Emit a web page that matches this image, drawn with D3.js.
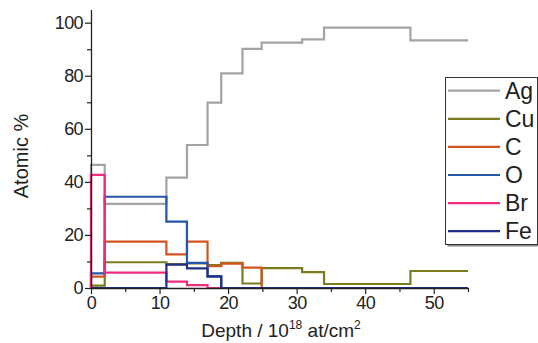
<!DOCTYPE html>
<html>
<head>
<meta charset="utf-8">
<script src="https://cdn.jsdelivr.net/npm/d3@7"></script>
<style>
  body { margin: 0; background: #fff; }
  svg { display: block; font-family: "Liberation Sans", Arial, sans-serif; }
</style>
</head>
<body>
<svg id="chart" width="538" height="343"></svg>
<script>
// Layer boundaries (depth, 10^18 at/cm^2)
const depths = [0, 2, 11, 14, 17, 19, 22.1, 24.9, 30.8, 34, 46.6, 55];
// Atomic % for each layer (between consecutive boundaries)
const agValues = [46.4, 31.7, 41.6, 53.9, 69.9, 80.9, 90.1, 92.5, 93.7, 98.1, 93.3];
const cuValues = [0.9, 9.7, 9.0, 9.3, 8.6, 9.5, 1.7, 7.5, 6.0, 1.5, 6.4];
const cValues  = [4.3, 17.5, 12.7, 17.5, 8.2, 9.2, 7.7, 0, 0, 0, 0];
const oValues  = [5.5, 34.4, 25.0, 9.5, 4.5, 0, 0, 0, 0, 0, 0];
const brValues = [42.6, 5.8, 2.4, 1.1, 0, 0, 0, 0, 0, 0, 0];
const feValues = [0, 0, 8.8, 7.4, 4.3, 0, 0, 0, 0, 0, 0];
const seriesNames = ["Ag", "Cu", "C", "O", "Br", "Fe"];
const seriesColors = ["#a3a3a3", "#7b7b1f", "#d4531f", "#2656a8", "#ee2d7d", "#232e86"];
const xTicks = [0, 10, 20, 30, 40, 50];
const yTicks = [0, 20, 40, 60, 80, 100];

const series = [agValues, cuValues, cValues, oValues, brValues, feValues].map((vals, i) => ({
  name: seriesNames[i], color: seriesColors[i], values: vals
}));

const svg = d3.select("#chart");
const x = d3.scaleLinear().domain([0, 55]).range([91, 468]);
const y = d3.scaleLinear().domain([0, 105]).range([288, 9.4]);

// Step lines
const line = d3.line().x(d => x(d[0])).y(d => y(d[1])).curve(d3.curveStepAfter);
const plot = svg.append("g");
series.forEach(s => {
  const pts = [[depths[0], 0]];
  s.values.forEach((v, i) => pts.push([depths[i], v]));
  pts.push([depths[depths.length - 1], s.values[s.values.length - 1]]);
  plot.append("path")
    .attr("d", line(pts))
    .attr("fill", "none")
    .attr("stroke", s.color)
    .attr("stroke-width", 2.2);
});

// Axes
const axisColor = "#222";
svg.append("g").attr("transform", `translate(${x(0)},0)`)
  .call(d3.axisLeft(y).tickValues(yTicks).tickSize(6).tickPadding(2).tickSizeOuter(0));
svg.append("g").attr("transform", `translate(${x(0)},0)`)
  .call(d3.axisLeft(y).tickValues([10, 30, 50, 70, 90]).tickSize(4).tickFormat("").tickSizeOuter(0))
  .call(g => g.select(".domain").remove());
svg.append("g").attr("transform", `translate(0,${y(0)})`)
  .call(d3.axisBottom(x).tickValues(xTicks).tickSize(6).tickPadding(2).tickSizeOuter(0));
svg.append("g").attr("transform", `translate(0,${y(0)})`)
  .call(d3.axisBottom(x).tickValues([5, 15, 25, 35, 45, 55]).tickSize(4).tickFormat("").tickSizeOuter(0))
  .call(g => g.select(".domain").remove());

svg.selectAll(".domain").attr("stroke", axisColor).attr("stroke-width", 1.3);
svg.selectAll(".tick line").attr("stroke", axisColor).attr("stroke-width", 1.2);
svg.selectAll(".tick text").attr("font-size", 18).attr("fill", "#222")
  .attr("letter-spacing", "-0.6px")
  .attr("font-family", "'Liberation Sans', Arial, sans-serif");

// Axis titles
svg.append("text")
  .attr("transform", `translate(28,156) rotate(-90)`)
  .attr("text-anchor", "middle")
  .attr("font-size", 20).attr("fill", "#222")
  .text("Atomic %");

const xt = svg.append("text")
  .attr("x", 281).attr("y", 337)
  .attr("text-anchor", "middle")
  .attr("font-size", 19).attr("fill", "#222");
xt.append("tspan").text("Depth / 10");
xt.append("tspan").attr("font-size", 12).attr("dy", -8).text("18");
xt.append("tspan").attr("dy", 8).text(" at/cm");
xt.append("tspan").attr("font-size", 12).attr("dy", -8).text("2");

// Legend
const lg = svg.append("g");
lg.append("rect").attr("x", 447.5).attr("y", 79.5).attr("width", 92).attr("height", 167)
  .attr("fill", "#888");
lg.append("rect").attr("x", 445.5).attr("y", 77.5).attr("width", 92).attr("height", 167)
  .attr("fill", "#fff").attr("stroke", "#333").attr("stroke-width", 1);
series.forEach((s, i) => {
  const cy = 90.7 + i * 28.1;
  lg.append("line").attr("x1", 448).attr("x2", 500).attr("y1", cy).attr("y2", cy)
    .attr("stroke", s.color).attr("stroke-width", 2.2);
  lg.append("text").attr("x", 505).attr("y", cy).attr("dy", "0.36em")
    .attr("font-size", 23).attr("fill", "#222").text(s.name);
});
</script>
</body>
</html>
